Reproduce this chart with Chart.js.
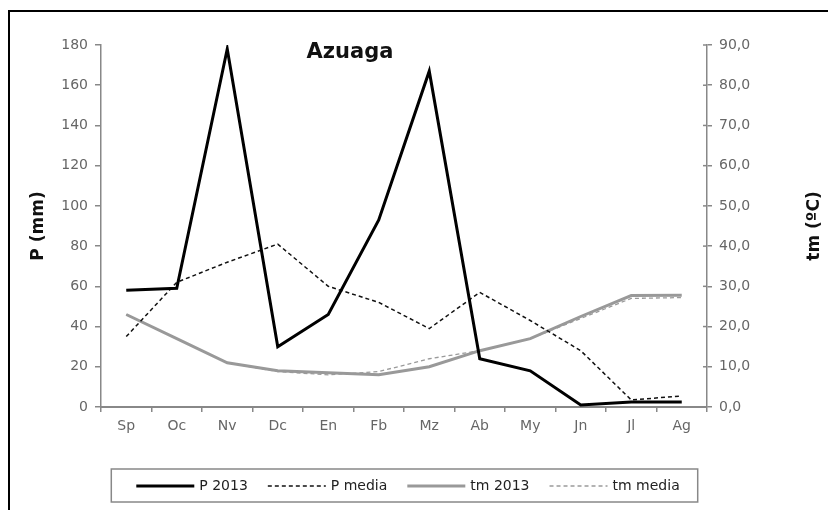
<!DOCTYPE html>
<html>
<head>
<meta charset="utf-8">
<script src="https://cdn.jsdelivr.net/npm/chart.js@4/dist/chart.umd.min.js"></script>
<style>
  body { margin: 0; background: #fff; }
  canvas { display: block; }
</style>
</head>
<body>
<canvas id="climaChart" width="828" height="510"></canvas>
<script>
// Meses (sep - ago)
const meses = ['Sp', 'Oc', 'Nv', 'Dc', 'En', 'Fb', 'Mz', 'Ab', 'My', 'Jn', 'Jl', 'Ag'];

// Precipitación (mm)
const p2013 = [58, 59, 178, 30, 46, 93, 167, 24, 18, 1, 2.5, 2.5];
const pMedia = [35, 62, 72, 81, 60, 52, 39, 57, 43, 28, 3.5, 5.5];

// Temperatura media (ºC)
const tm2013 = [23, 17, 11, 9, 8.5, 8, 10, 14, 17, 22.5, 27.7, 27.8];
const tmMedia = [23, 17, 11, 8.8, 8, 8.8, 12, 14, 17, 22, 27, 27.2];

const tituloGrafico = 'Azuaga';
const tituloEjeP = 'P (mm)';
const tituloEjeT = 'tm (ºC)';

Chart.defaults.font.family = "'DejaVu Sans', sans-serif";

// Marco, título, títulos de ejes y leyenda
const decoracion = {
    id: 'decoracion',
    beforeDraw(chart) {
        const ctx = chart.ctx;
        ctx.save();
        ctx.fillStyle = '#fff';
        ctx.fillRect(0, 0, chart.width, chart.height);
        ctx.strokeStyle = '#000';
        ctx.lineWidth = 2;
        ctx.beginPath();
        ctx.moveTo(9, chart.height);
        ctx.lineTo(9, 11);
        ctx.lineTo(chart.width, 11);
        ctx.stroke();
        ctx.restore();
    },
    afterDraw(chart) {
        const ctx = chart.ctx;
        const area = chart.chartArea;
        ctx.save();

        // título
        ctx.fillStyle = '#111';
        ctx.font = "bold 21px 'DejaVu Sans'";
        ctx.textAlign = 'center';
        ctx.textBaseline = 'middle';
        ctx.fillText(tituloGrafico, 350, 53);

        // títulos de ejes
        ctx.font = "bold 17px 'DejaVu Sans'";
        const midY = (area.top + area.bottom) / 2;
        [[39, tituloEjeP], [815, tituloEjeT]].forEach(([x, txt]) => {
            ctx.save();
            ctx.translate(x, midY);
            ctx.rotate(-Math.PI / 2);
            ctx.fillText(txt, 0, 0);
            ctx.restore();
        });

        // marcas cruzadas del eje derecho
        const y1 = chart.scales.y1;
        ctx.strokeStyle = '#888';
        ctx.lineWidth = 1.5;
        y1.ticks.forEach((t, i) => {
            const py = y1.getPixelForTick(i);
            ctx.beginPath();
            ctx.moveTo(area.right - 4, py);
            ctx.lineTo(area.right, py);
            ctx.stroke();
        });

        // leyenda
        ctx.font = "14px 'DejaVu Sans'";
        ctx.textAlign = 'left';
        const lineLen = 58, gapText = 5, gapItem = 20;
        const items = chart.data.datasets.map(ds => ({
            ds, w: ctx.measureText(ds.label).width
        }));
        const total = items.reduce((s, it) => s + lineLen + gapText + it.w, 0) + gapItem * (items.length - 1);
        let x = 408 - total / 2;
        const y = 486;
        ctx.strokeStyle = '#888';
        ctx.lineWidth = 1.5;
        ctx.strokeRect(x - 25, 469, total + 43, 33);
        items.forEach(it => {
            ctx.strokeStyle = it.ds.borderColor;
            ctx.lineWidth = it.ds.borderWidth;
            ctx.setLineDash(it.ds.borderDash || []);
            ctx.beginPath();
            ctx.moveTo(x, y);
            ctx.lineTo(x + lineLen, y);
            ctx.stroke();
            ctx.setLineDash([]);
            x += lineLen + gapText;
            ctx.fillStyle = '#222';
            ctx.fillText(it.ds.label, x, y);
            x += it.w + gapItem;
        });
        ctx.restore();
    }
};

const ctx = document.getElementById('climaChart').getContext('2d');
new Chart(ctx, {
    type: 'line',
    data: {
        labels: meses,
        datasets: [
            {
                label: 'P 2013',
                data: p2013,
                yAxisID: 'y',
                borderColor: '#000',
                borderWidth: 3
            },
            {
                label: 'P media',
                data: pMedia,
                yAxisID: 'y',
                borderColor: '#111',
                borderWidth: 1.5,
                borderDash: [4, 3]
            },
            {
                label: 'tm 2013',
                data: tm2013,
                yAxisID: 'y1',
                borderColor: '#999',
                borderWidth: 3
            },
            {
                label: 'tm media',
                data: tmMedia,
                yAxisID: 'y1',
                borderColor: '#9a9a9a',
                borderWidth: 1.3,
                borderDash: [4, 3]
            }
        ]
    },
    options: {
        responsive: false,
        animation: false,
        layout: { padding: { top: 45, bottom: 73, left: 0, right: 0 } },
        elements: {
            point: { radius: 0, hoverRadius: 0 },
            line: { tension: 0, fill: false, borderCapStyle: 'butt' }
        },
        plugins: {
            legend: { display: false },
            tooltip: { enabled: false }
        },
        scales: {
            x: {
                offset: true,
                grid: { drawOnChartArea: false, offset: true, tickLength: 5, color: '#888', lineWidth: 1.5 },
                border: { color: '#888', width: 2 },
                ticks: { color: '#666', font: { size: 14 }, padding: 6, maxRotation: 0 },
                afterFit: (scale) => { scale.height = 30; }
            },
            y: {
                position: 'left',
                min: 0,
                max: 180,
                grid: { drawOnChartArea: false, tickLength: 6, color: '#888', lineWidth: 1.5 },
                border: { color: '#888', width: 1.5 },
                ticks: { stepSize: 20, color: '#666', font: { size: 14 }, padding: 7 },
                afterFit: (scale) => { scale.width = 101; }
            },
            y1: {
                position: 'right',
                min: 0,
                max: 90,
                grid: { drawOnChartArea: false, tickLength: 5, color: '#888', lineWidth: 1.5 },
                border: { color: '#888', width: 1.5 },
                ticks: {
                    stepSize: 10,
                    color: '#666',
                    font: { size: 14 },
                    padding: 7,
                    callback: (v) => v.toFixed(1).replace('.', ',')
                },
                afterFit: (scale) => { scale.width = 121; }
            }
        }
    },
    plugins: [decoracion]
});
</script>
</body>
</html>
